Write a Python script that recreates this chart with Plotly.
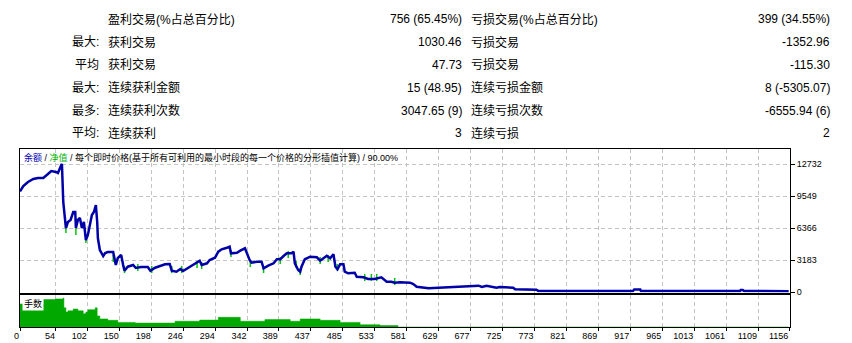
import plotly.graph_objects as go

# ---------------- data ----------------
row_prefix = ["", "最大:", "平均", "最大:", "最多:", "平均:"]
win_labels = ["盈利交易(%占总百分比)", "获利交易", "获利交易", "连续获利金额", "连续获利次数", "连续获利"]
win_values = ["756 (65.45%)", "1030.46", "47.73", "15 (48.95)", "3047.65 (9)", "3"]
loss_labels = ["亏损交易(%占总百分比)", "亏损交易", "亏损交易", "连续亏损金额", "连续亏损次数", "连续亏损"]
loss_values = ["399 (34.55%)", "-1352.96", "-115.30", "8 (-5305.07)", "-6555.94 (6)", "2"]

trade_no = [0, 5, 12, 20, 27, 35, 42, 47, 54, 57, 62, 63, 65, 67, 69, 72, 76, 80, 83, 84, 87, 90, 93, 96,
            99, 102, 105, 108, 111, 114, 116, 117, 120, 122, 125, 128, 132, 140, 142, 144, 147, 152, 155,
            157, 162, 170, 174, 182, 192, 196, 203, 213, 218, 225, 228, 235, 241, 245, 253, 260, 266, 270,
            273, 281, 285, 293, 298, 303, 311, 315, 317, 326, 331, 338, 341, 345, 348, 356, 363, 366, 373,
            381, 386, 391, 396, 401, 408, 411, 413, 418, 421, 423, 428, 436, 446, 451, 461, 466, 471, 474,
            477, 481, 486, 488, 493, 503, 506, 516, 523, 533, 543, 548, 551, 558, 563, 571, 586, 591, 596,
            614, 626, 659, 689, 694, 701, 716, 721, 741, 744, 776, 779, 921, 923, 932, 933, 1082, 1083,
            1086, 1088, 1155]
balance = [10000, 10544, 10942, 11240, 11340, 11340, 11737, 12036, 11936, 11837, 12633, 12732, 8952, 7858,
           6366, 6963, 7162, 7958, 7958, 6366, 7162, 7361, 6366, 6963, 5172, 5670, 6863, 7659, 7958, 8654,
           6963, 5371, 4178, 3979, 3581, 3879, 3979, 3979, 3183, 2686, 3382, 3680, 2686, 2119, 2517, 2686,
           2387, 2487, 2487, 2119, 2417, 2616, 2755, 2785, 2119, 2019, 2288, 2089, 2417, 2755, 2914, 3113,
           2686, 2855, 3183, 3412, 4009, 4247, 4407, 4506, 3849, 3909, 4108, 4347, 3849, 3183, 2914, 3014,
           3014, 2357, 2616, 2855, 3253, 3253, 3581, 3849, 3849, 4009, 2855, 2188, 2019, 2517, 3253, 3511,
           3452, 3113, 3611, 3352, 3750, 2517, 2258, 2755, 2755, 2019, 1860, 1920, 1522, 1462, 1293, 1293,
           1462, 1194, 1025, 1025, 925, 965, 925, 796, 527, 368, 428, 527, 627, 497, 627, 428, 497, 428,
           269, 229, 100, 100, 250, 250, 100, 100, 200, 200, 100, 80]

equity_dip_trade = [69, 84, 99, 140, 157, 177, 198, 228, 243, 266, 273, 317, 346, 366, 391, 403, 415,
                    421, 451, 463, 477, 518, 528, 536, 563]
equity_dip_value = [6217, 6018, 5222, 3332, 2238, 2437, 2238, 2238, 2238, 2735, 2636, 3830, 2835, 2238,
                    3133, 3730, 2735, 2039, 3133, 3332, 2437, 1442, 1442, 1442, 1044]

lots_trade = [0, 35, 53, 65, 66, 69, 72, 80, 87, 95, 99, 102, 113, 116, 120, 132, 147, 173, 233, 270, 298,
              331, 368, 406, 421, 451, 481, 511, 541, 568, 1155]
lots = [1.0, 1.19, 1.22, 1.26, 0.83, 0.65, 0.70, 0.78, 0.70, 0.58, 0.65, 0.75, 0.83, 0.48, 0.35, 0.29,
        0.20, 0.17, 0.25, 0.30, 0.42, 0.25, 0.32, 0.25, 0.35, 0.29, 0.20, 0.10, 0.06, 0.0, 0.0]

x_tick_labels = ["0", "54", "102", "150", "198", "246", "294", "342", "389", "437", "485", "533", "581",
                 "629", "677", "725", "773", "821", "869", "917", "965", "1013", "1061", "1109", "1156"]
y_tick_labels = ["0", "3183", "6366", "9549", "12732"]

# ---------------- layout helpers ----------------
W, H = 852, 343
L, R, T, B = 20, 62, 149, 16
PW, PH = W - L - R, H - T - B


def px2x(px):
    return (px - L) / PW


def py2y(py):
    return (H - B - py) / PH


TXT = "Liberation Sans, Noto Sans CJK SC"
GRID = "#c4c4c4"

fig = go.Figure()

fig.add_trace(go.Scatter(
    x=equity_dip_trade, y=equity_dip_value, mode="markers", xaxis="x", yaxis="y",
    marker=dict(symbol="line-ns", size=5, line=dict(color="#00c800", width=1.5)),
    hoverinfo="skip", showlegend=False))

fig.add_trace(go.Scatter(
    x=trade_no, y=balance, mode="lines", xaxis="x", yaxis="y",
    line=dict(color="#0000a8", width=2.5), showlegend=False))

fig.add_trace(go.Scatter(
    x=lots_trade, y=lots, mode="lines", xaxis="x2", yaxis="y2",
    line=dict(color="#00a800", width=0.5, shape="hv"), fill="tozeroy", fillcolor="#00a800",
    showlegend=False))

xt = [int(v) for v in x_tick_labels]
yt = [int(v) for v in y_tick_labels]

main_bottom = py2y(292.5)
vol_top = py2y(294.5)

common_x = dict(range=[0, 1157], tickvals=xt, ticktext=x_tick_labels, showgrid=True,
                gridcolor=GRID, griddash="4px,3px", gridwidth=1, zeroline=False, automargin=False,
                showline=True, linecolor="black", linewidth=1, mirror=True)

fig.update_layout(
    width=W, height=H, margin=dict(l=L, r=R, t=T, b=B, autoexpand=False),
    paper_bgcolor="white", plot_bgcolor="white",
    xaxis=dict(**common_x, anchor="y", showticklabels=False, ticks=""),
    xaxis2=dict(**common_x, anchor="y2", matches="x", ticks="outside", ticklen=3,
                tickcolor="black", ticklabelposition="outside left",
                tickfont=dict(family=TXT, size=9, color="black")),
    yaxis=dict(domain=[main_bottom, 1], range=[-50, 14224], side="right", anchor="x",
               tickvals=yt, ticktext=y_tick_labels, ticks="outside", ticklen=4, tickcolor="black",
               tickfont=dict(family=TXT, size=9, color="black"), showgrid=True, gridcolor=GRID,
               griddash="4px,3px", zeroline=False, showline=True, linecolor="black", linewidth=1,
               mirror=True, automargin=False),
    yaxis2=dict(domain=[0, vol_top], range=[0, 1.41], anchor="x2", showticklabels=False,
                showgrid=False, zeroline=False, showline=True, linecolor="black", linewidth=1,
                mirror=True, ticks="", automargin=False),
    hovermode=False,
)

ann = []
row_y = [19, 42, 65, 88, 110.5, 133]
for i in range(len(row_y)):
    yy = py2y(row_y[i])
    if row_prefix[i]:
        ann.append(dict(x=px2x(101), y=yy, text=row_prefix[i], xanchor="right"))
    ann.append(dict(x=px2x(106), y=yy, text=win_labels[i], xanchor="left"))
    ann.append(dict(x=px2x(464), y=yy, text=win_values[i], xanchor="right"))
    ann.append(dict(x=px2x(469), y=yy, text=loss_labels[i], xanchor="left"))
    ann.append(dict(x=px2x(832), y=yy, text=loss_values[i], xanchor="right"))
for a in ann:
    a.update(xref="paper", yref="paper", yanchor="middle", showarrow=False,
             font=dict(family=TXT, size=12, color="black"))

ann.append(dict(
    x=px2x(22), y=py2y(157), xref="paper", yref="paper", xanchor="left", yanchor="middle",
    showarrow=False, font=dict(family=TXT, size=9, color="black"),
    text='<span style="color:#0000b4">余额</span> / <span style="color:#00b400">净值</span> / '
         '每个即时价格(基于所有可利用的最小时段的每一个价格的分形插值计算) / 90.00%'))
ann.append(dict(
    x=px2x(22), y=py2y(303.5), xref="paper", yref="paper", xanchor="left", yanchor="middle",
    showarrow=False, bgcolor="white", borderpad=1, font=dict(family=TXT, size=9, color="black"),
    text="手数"))

fig.update_layout(annotations=ann)

fig.write_html("out.html")
